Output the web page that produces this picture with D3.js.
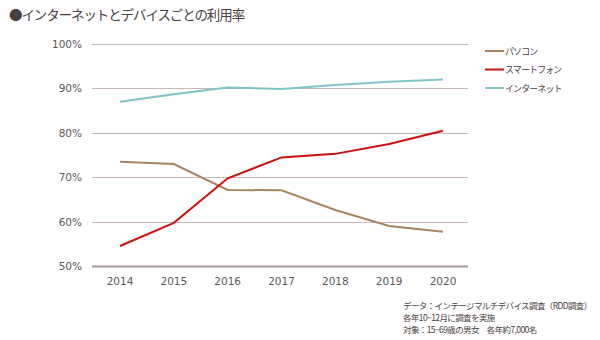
<!DOCTYPE html>
<meta charset="utf-8">
<style>
body { margin: 0; background: #fff; }
text { font-family: "Noto Sans CJK JP", "DejaVu Sans", sans-serif; }
.grid line { stroke: #c9b8b8; stroke-width: 1; }
.axis text { fill: #595959; font-size: 10.5px; font-family: "DejaVu Sans", sans-serif; }
.series { fill: none; stroke-width: 2; }
</style>
<svg width="600" height="340"></svg>
<script src="https://d3js.org/d3.v7.min.js"></script>
<script>

var years = [2014, 2015, 2016, 2017, 2018, 2019, 2020];
var pc = [73.4, 72.9, 67.1, 67.0, 62.6, 59.0, 57.7];
var smartphone = [54.5, 59.7, 69.7, 74.4, 75.2, 77.4, 80.4];
var internet = [86.9, 88.6, 90.1, 89.8, 90.7, 91.4, 91.9];
var seriesNames = ["パソコン", "スマートフォン", "インターネット"];
var seriesColors = ["#a8855e", "#cc1111", "#7fc4c6"];
var yTicks = [50, 60, 70, 80, 90, 100];
var notes = [
  "データ：インテージマルチデバイス調査（RDD調査）",
  "各年10~12月に調査を実施",
  "対象：15~69歳の男女　各年約7,000名"
];

var svg = d3.select("svg");

var x = d3.scalePoint()
  .domain(years)
  .range([120, 443]);

var y = d3.scaleLinear()
  .domain([50, 100])
  .range([266, 43.5]);

// title
svg.append("text")
  .attr("x", 9)
  .attr("y", 20)
  .attr("fill", "#4a3f3f")
  .attr("font-size", "13.5px")
  .attr("letter-spacing", "-1.1px")
  .text("●インターネットとデバイスごとの利用率");

// horizontal grid
svg.append("g")
  .attr("class", "grid")
  .selectAll("line")
  .data(yTicks)
  .enter().append("line")
    .attr("x1", 92)
    .attr("x2", 468)
    .attr("y1", function(d) { return Math.round(y(d)) + 0.5; })
    .attr("y2", function(d) { return Math.round(y(d)) + 0.5; })
    .style("stroke", function(d) { return d === 50 ? "#a89a9a" : null; })
    .style("stroke-width", function(d) { return d === 50 ? 2 : null; });

// y labels
svg.append("g")
  .attr("class", "axis")
  .selectAll("text")
  .data(yTicks)
  .enter().append("text")
    .attr("x", 82)
    .attr("y", function(d) { return y(d) + 4; })
    .attr("text-anchor", "end")
    .text(function(d) { return d + "%"; });

// x labels
svg.append("g")
  .attr("class", "axis")
  .selectAll("text")
  .data(years)
  .enter().append("text")
    .attr("x", function(d) { return x(d); })
    .attr("y", 285)
    .attr("text-anchor", "middle")
    .text(function(d) { return d; });

var line = d3.line()
  .x(function(d, i) { return x(years[i]); })
  .y(function(d) { return y(d); });

svg.selectAll("path.series")
  .data([pc, smartphone, internet])
  .enter().append("path")
    .attr("class", "series")
    .attr("stroke", function(d, i) { return seriesColors[i]; })
    .attr("d", line);

// legend
var legend = svg.append("g")
  .selectAll("g")
  .data(seriesNames)
  .enter().append("g")
    .attr("transform", function(d, i) { return "translate(485," + (51 + i * 18.5) + ")"; });

legend.append("line")
  .attr("x1", 0)
  .attr("x2", 19)
  .attr("stroke-width", 2)
  .attr("stroke", function(d, i) { return seriesColors[i]; });

legend.append("text")
  .attr("x", 20)
  .attr("y", 3.5)
  .attr("font-size", "9px")
  .attr("letter-spacing", "-0.9px")
  .attr("fill", "#4a4040")
  .text(function(d) { return d; });

// notes
svg.append("g")
  .selectAll("text")
  .data(notes)
  .enter().append("text")
    .attr("x", 403)
    .attr("y", function(d, i) { return 309 + i * 12; })
    .attr("font-size", "8.5px")
    .attr("letter-spacing", "-0.6px")
    .attr("fill", "#4a4040")
    .text(function(d) { return d; });

</script>
